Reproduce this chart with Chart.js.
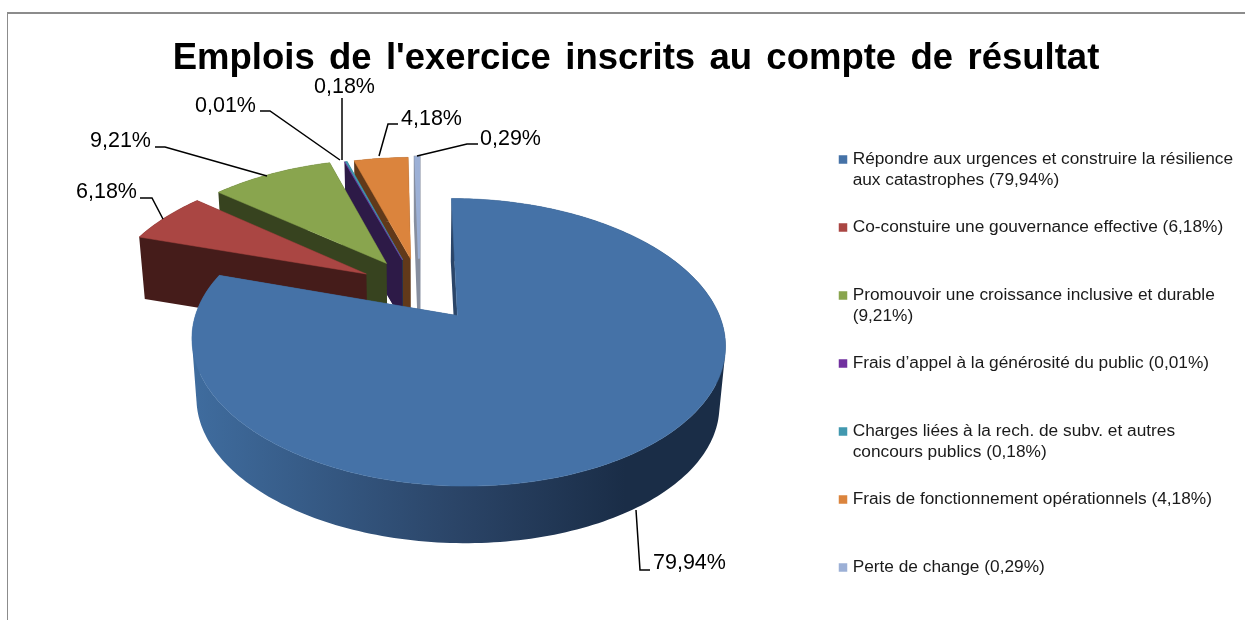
<!DOCTYPE html>
<html>
<head>
<meta charset="utf-8">
<script src="https://cdn.jsdelivr.net/npm/chart.js@4"></script>
<style>
    body { margin: 0; background: #fff; }
    #frame { position: absolute; left: 7px; top: 12px; right: 0; bottom: 0; border-top: 2px solid #8c8c8c; border-left: 1px solid #8c8c8c; }
    canvas { position: absolute; left: 0; top: 0; }
</style>
</head>
<body>
<div id="frame"></div>
<canvas id="pieChart" width="1245" height="620"></canvas>
<script>
// Data
const titleText = "Emplois de l'exercice inscrits au compte de résultat";
const legendLines = [
    ['Répondre aux urgences et construire la résilience', 'aux catastrophes (79,94%)'],
    ['Co-constuire une gouvernance effective (6,18%)', ' '],
    ['Promouvoir une croissance inclusive et durable', '(9,21%)'],
    ['Frais d’appel à la générosité du public (0,01%)', ' '],
    ['Charges liées à la rech. de subv. et autres', 'concours publics (0,18%)'],
    ['Frais de fonctionnement opérationnels (4,18%)', ' '],
    ['Perte de change (0,29%)', ' ']
];
const values = [79.94, 6.18, 9.21, 0.01, 0.18, 4.18, 0.29];
const percentLabels = ['79,94%', '6,18%', '9,21%', '0,01%', '0,18%', '4,18%', '0,29%'];

// Warna
const topColors = ['#4572a7', '#aa4643', '#89a54e', '#71309f', '#4198af', '#db843d', '#9cb0d6'];
const wallColors = ['#2b4568', '#451c1a', '#37431f', '#2d1a47', '#1a4b58', '#61391a', '#868e9f'];

// Posisi label dan garis penunjuk
const labelPos = [[653, 563], [76, 192], [90, 141], [195, 106], [314, 87], [401, 119], [480, 139]];
const leaders = [
    [[636, 510], [640, 570], [650, 570]],
    [[140, 198], [152, 198], [163, 219]],
    [[155, 147], [165, 147], [267, 176]],
    [[260, 111], [270, 111], [340, 160]],
    [[342, 98], [342, 160]],
    [[398, 124], [388, 124], [379, 156]],
    [[478, 144], [467, 144], [417, 156]]
];

// Kamera untuk efek 3D
const view = { cx: 419.5, cy: 289, tilt: 0.511, persp: 0.00071, depth: 61, shrink: 0.98 };
const radiusScale = [0.995, 1.025, 1.02, 1, 1, 1, 1];

function project(x, y, bottom) {
    const f = 1 / (1 - view.persp * y);
    const s = bottom ? view.shrink : 1;
    return {
        x: view.cx + x * f * s,
        y: view.cy + view.tilt * y * f * s + (bottom ? view.depth : 0)
    };
}

// Titik keliling tiap irisan, dari geometri arc Chart.js
function sliceOutline(arc, index) {
    const mid = (arc.startAngle + arc.endAngle) / 2;
    const ox = Math.cos(mid) * arc.options.offset;
    const oy = Math.sin(mid) * arc.options.offset;
    const r = arc.outerRadius * radiusScale[index];
    const pts = [[ox, oy]];
    const steps = Math.max(1, Math.ceil((arc.endAngle - arc.startAngle) / 0.02));
    for (let i = 0; i <= steps; i++) {
        const a = arc.startAngle + (arc.endAngle - arc.startAngle) * i / steps;
        pts.push([ox + Math.cos(a) * r, oy + Math.sin(a) * r]);
    }
    return pts;
}

function wallStyle(ctx, index) {
    if (index !== 0) return wallColors[index];
    const g = ctx.createLinearGradient(195, 0, 625, 0);
    g.addColorStop(0, '#3f6c9e');
    g.addColorStop(0.6, '#2b4568');
    g.addColorStop(1, '#1a2d47');
    return g;
}

const pie3d = {
    id: 'pie3d',
    beforeDraw(chart) {
        // Spasi antar kata pada judul
        const title = chart.titleBlock;
        if (!title.patched) {
            const drawTitle = title.draw;
            title.draw = function () {
                chart.ctx.wordSpacing = '4.2px';
                drawTitle.call(title);
                chart.ctx.wordSpacing = '0px';
            };
            title.patched = true;
        }
    },
    // Gambar irisan sendiri supaya dapat perspektif
    beforeDatasetsDraw(chart) {
        const ctx = chart.ctx;
        const arcs = chart.getDatasetMeta(0).data;
        const order = [6, 5, 4, 3, 2, 1, 0];
        ctx.save();
        order.forEach(i => {
            const pts = sliceOutline(arcs[i], i);
            const style = wallStyle(ctx, i);
            ctx.fillStyle = style;
            ctx.strokeStyle = style;
            ctx.lineWidth = 3;
            ctx.beginPath();
            pts.forEach((p, j) => {
                const q = pts[(j + 1) % pts.length];
                let quad = [
                    project(p[0], p[1], false),
                    project(q[0], q[1], false),
                    project(q[0], q[1], true),
                    project(p[0], p[1], true)
                ];
                // Semua sisi dibuat searah supaya fill tidak berlubang
                let area = 0;
                quad.forEach((a, k) => {
                    const b = quad[(k + 1) % 4];
                    area += a.x * b.y - b.x * a.y;
                });
                if (area < 0) quad = quad.reverse();
                ctx.moveTo(quad[0].x, quad[0].y);
                ctx.lineTo(quad[1].x, quad[1].y);
                ctx.lineTo(quad[2].x, quad[2].y);
                ctx.lineTo(quad[3].x, quad[3].y);
                ctx.closePath();
            });
            ctx.fill();
            // Irisan paling tipis tetap kelihatan
            if (i === 6) ctx.stroke();
        });
        order.forEach(i => {
            ctx.fillStyle = topColors[i];
            ctx.strokeStyle = topColors[i];
            ctx.lineWidth = i === 6 ? 2 : 0.5;
            ctx.beginPath();
            sliceOutline(arcs[i], i).forEach(p => {
                const s = project(p[0], p[1], false);
                ctx.lineTo(s.x, s.y);
            });
            ctx.closePath();
            ctx.fill();
            ctx.stroke();
        });
        ctx.restore();
        return false;
    },
    afterDraw(chart) {
        const ctx = chart.ctx;
        ctx.save();
        ctx.strokeStyle = '#000';
        ctx.lineWidth = 1.5;
        leaders.forEach(line => {
            ctx.beginPath();
            line.forEach(p => ctx.lineTo(p[0], p[1]));
            ctx.stroke();
        });
        ctx.fillStyle = '#000';
        ctx.font = '21.5px "Liberation Sans"';
        ctx.textBaseline = 'middle';
        percentLabels.forEach((t, i) => ctx.fillText(t, labelPos[i][0], labelPos[i][1]));
        ctx.restore();
    }
};

new Chart(document.getElementById('pieChart'), {
    type: 'pie',
    data: {
        labels: legendLines,
        datasets: [{
            data: values,
            backgroundColor: topColors,
            borderWidth: 0,
            offset: 62,
            radius: 254
        }]
    },
    options: {
        responsive: false,
        animation: false,
        layout: { padding: { left: 27 } },
        plugins: {
            tooltip: { enabled: false },
            title: {
                display: true,
                text: titleText,
                color: '#000',
                font: { family: '"Liberation Sans"', size: 36.5, weight: 'bold' },
                padding: { top: 37, bottom: 44 }
            },
            legend: {
                position: 'right',
                align: 'start',
                fullSize: false,
                maxWidth: 429,
                labels: {
                    color: '#1a1a1a',
                    font: { family: '"Liberation Sans"', size: 17.3, lineHeight: 21 / 17.3 },
                    usePointStyle: true,
                    pointStyle: 'rect',
                    boxWidth: 2,
                    boxHeight: 8.5,
                    padding: 26
                }
            }
        }
    },
    plugins: [pie3d]
});
</script>
</body>
</html>
